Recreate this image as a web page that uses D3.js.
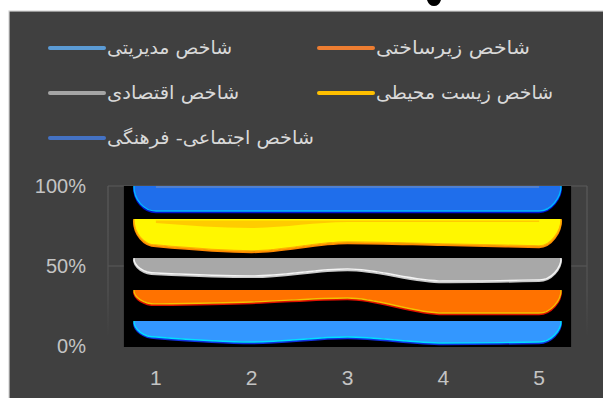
<!DOCTYPE html>
<html><head><meta charset="utf-8">
<script src="https://cdn.jsdelivr.net/npm/d3@7/dist/d3.min.js"></script>
<style>html,body{margin:0;padding:0;background:#fff;overflow:hidden}</style>
</head><body>
<svg id="c" width="603" height="398"></svg>
<script>
// ---- data ----
const categories = ['1','2','3','4','5'];
const seriesNames = ['شاخص مدیریتی','شاخص  زیرساختی','شاخص اقتصادی','شاخص زیست محیطی','شاخص اجتماعی- فرهنگی'];
const seriesColors = ['#5B9BD5','#ED7D31','#A5A5A5','#FFC000','#4472C4'];
const yTicks = [0, 50, 100];
// upper (flat) edge of each band, percent
const bandTop = [15.6, 35, 55, 79.4, 100];
// lower edge of each band per category, percent
const lowManagement = [5.6, 2.5, 5.6, 1.9, 2.5];
const lowInfrastructure = [26.3, 27.5, 30, 20.6, 20.6];
const lowEconomic = [45.6, 43.8, 48.1, 40.6, 41.3];
const lowEnvironment = [63.1, 59.4, 65, 63.8, 62.5];
const lowSocial = [84.4, 84.4, 84.4, 84.4, 84.4];
const envInnerStrip = [76.9, 73.8, 77.5, 77.5, 77.5];

const lows = [lowManagement, lowInfrastructure, lowEconomic, lowEnvironment, lowSocial];
const bandFill = ['#3397FF','#FF7200','#A8A8A8','#FFF700','#1F6EEB'];
const edgeHi = ['#00E0FF','#F2C200','#F4F4F4','#FFB000','#00B8FF'];
const edgeLo = ['#1030E0','#E01000','#C8C8C8','#FF8800','#0010D0'];

const svg = d3.select('#c');
// frame
svg.append('rect').attr('x',0).attr('y',0).attr('width',603).attr('height',398).attr('fill','#fff');
svg.append('path').attr('d','M427,0 Q429,6 434,6 Q439,6 441,0 Z').attr('fill','#000');
svg.append('rect').attr('x',9).attr('y',11).attr('width',600).attr('height',400).attr('fill','#404040').attr('stroke','#D4D4D4').attr('stroke-width',1.2);

const x = d3.scaleBand().domain(categories).range([108, 587]);
const y = d3.scaleLinear().domain([0, 100]).range([346, 186]);
const xc = i => x(categories[i]) + x.bandwidth() / 2;

// gridlines & plot border
const defs = svg.append('defs');
const g1 = defs.append('linearGradient').attr('id','fade').attr('x1',0).attr('y1',0).attr('x2',0).attr('y2',1);
g1.append('stop').attr('offset','0').attr('stop-color','#5A5A5A');
g1.append('stop').attr('offset','0.7').attr('stop-color','#525252');
g1.append('stop').attr('offset','1').attr('stop-color','#404040');
[50, 100].forEach(v => svg.append('line').attr('x1',108).attr('x2',587).attr('y1',y(v)).attr('y2',y(v)).attr('stroke','#5A5A5A').attr('stroke-width',1));
[108, 587].forEach(xx => svg.append('rect').attr('x',xx-0.6).attr('y',y(100)).attr('width',1.2).attr('height',y(0)-y(100)-10).attr('fill','url(#fade)'));

// black picture area
svg.append('rect').attr('x', xc(0) - 32).attr('y', y(100)).attr('width', xc(4) - xc(0) + 64).attr('height', y(0) - y(100) + 1).attr('fill', '#000');

const r = 22, k = 0.55;
function edgePath(top, lo) {
  const pts = lo.map((v, i) => [xc(i), y(v)]);
  const yt = y(top);
  const xL = pts[0][0] - r, xR = pts[4][0] + r;
  const b0 = pts[0][1], b4 = pts[4][1];
  const line = d3.line().curve(d3.curveMonotoneX)(pts);
  return `M${xL},${yt}C${xL},${yt + k * (b0 - yt)} ${pts[0][0] - k * r},${b0} ${pts[0][0]},${b0}` +
    line.replace(/^M[^CL]*/, '') +
    `C${pts[4][0] + k * r},${b4} ${xR},${b4 - k * (b4 - yt)} ${xR},${yt}`;
}

const bands = svg.append('g');
lows.forEach((lo, i) => {
  const d = edgePath(bandTop[i], lo);
  bands.append('path').attr('d', d).attr('fill', 'none').attr('stroke', edgeLo[i]).attr('stroke-width', 2).attr('transform', 'translate(0,1.2)');
  bands.append('path').attr('d', d + 'Z').attr('fill', bandFill[i]);
  bands.append('path').attr('d', d).attr('fill', 'none').attr('stroke', edgeHi[i]).attr('stroke-width', 1.4);
});
// inner strip of environmental band
const stripArea = d3.area().curve(d3.curveMonotoneX).x((d, i) => xc(i)).y0(() => y(bandTop[3]) + 1.5).y1(d => y(d));
svg.append('path').attr('d', stripArea(envInnerStrip)).attr('fill', '#FFC400').attr('opacity', 0.85);
// top highlight of social band
svg.append('line').attr('x1', xc(0)).attr('x2', xc(4)).attr('y1', y(100) + 1).attr('y2', y(100) + 1).attr('stroke', '#4F80D2').attr('stroke-width', 2);

// axes
const yAxis = svg.append('g').attr('transform', 'translate(108,0)')
  .call(d3.axisLeft(y).tickValues(yTicks).tickFormat(d => d + '%').tickSize(0).tickPadding(22));
yAxis.select('.domain').remove();
yAxis.selectAll('text').attr('fill', '#C4C4C4').attr('font-size', 20).attr('font-family', 'Liberation Sans, Arial, sans-serif');

const xAxis = svg.append('g').attr('transform', 'translate(0,' + 366 + ')')
  .call(d3.axisBottom(x).tickSize(0).tickPadding(4));
xAxis.select('.domain').remove();
xAxis.selectAll('text').attr('fill', '#C4C4C4').attr('font-size', 21).attr('font-family', 'Liberation Sans, Arial, sans-serif');

// legend
const legendPos = [[50, 48, 125], [319, 48, 154], [50, 93, 132], [319, 93, 177], [50, 138, 207]];
const leg = svg.append('g');
seriesNames.forEach((name, i) => {
  const [lx, ly, tw] = legendPos[i];
  leg.append('line').attr('x1', lx).attr('x2', lx + 54).attr('y1', ly).attr('y2', ly)
    .attr('stroke', seriesColors[i]).attr('stroke-width', 4).attr('stroke-linecap', 'round');
  leg.append('text').attr('x', lx + 57).attr('y', ly + 6).text(name)
    .attr('fill', '#D9D9D9').attr('font-size', 18.5).attr('font-family', 'DejaVu Sans, Noto Sans, sans-serif')
    .attr('textLength', tw).attr('lengthAdjust', 'spacingAndGlyphs');
});
</script>
</body></html>
